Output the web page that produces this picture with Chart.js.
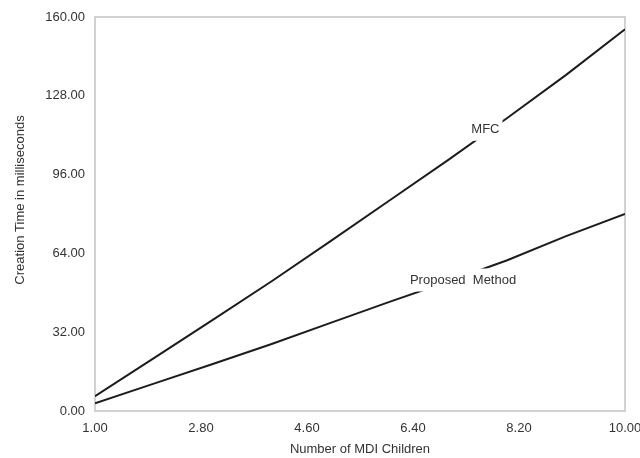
<!DOCTYPE html>
<html><head><meta charset="utf-8">
<script src="https://cdn.jsdelivr.net/npm/chart.js@4"></script>
<style>html,body{margin:0;padding:0;background:#fff;}</style>
</head><body>
<canvas id="c" width="640" height="458"></canvas>
<script>
const xValues = [1,2,3,4,5,6,7,8,9,10];
const mfcValues = [6.0,21.5,37.0,52.7,69.0,85.5,102.0,119.0,136.5,155.0];
const proposedValues = [3.1,11.1,19.1,27.2,35.8,44.3,52.6,61.2,71.0,80.0];
const xTicks = [1.00,2.80,4.60,6.40,8.20,10.00];
const yTicks = [0,32,64,96,128,160];
const seriesNames = ['MFC','Proposed  Method'];
const xTitle = 'Number of MDI Children';
const yTitle = 'Creation Time in milliseconds';
// label anchors in data units (x, y)
const labelAnchorX = [7.63, 7.25];
const labelAnchorY = [114.4, 53.2];

const FAMILY = '"Liberation Sans", Arial, sans-serif';
const FONT = '13px ' + FAMILY;
const TEXT = '#333333';
const LINE = '#1c1c1c';

const toPts = (ys) => xValues.map((x,i)=>({x:x,y:ys[i]}));

const deco = {
  id:'deco',
  beforeDatasetsDraw(chart){
    const {ctx, chartArea:a} = chart;
    ctx.save();
    ctx.strokeStyle = '#c4c4c4';
    ctx.lineWidth = 1.5;
    ctx.strokeRect(a.left, a.top, a.right-a.left, a.bottom-a.top);
    ctx.restore();
  },
  afterDatasetsDraw(chart){
    const {ctx} = chart;
    const xs = chart.scales.x, ys = chart.scales.y;
    ctx.save();
    ctx.font = FONT;
    ctx.textAlign = 'center';
    ctx.textBaseline = 'middle';
    seriesNames.forEach((name,i)=>{
      const px = xs.getPixelForValue(labelAnchorX[i]);
      const py = ys.getPixelForValue(labelAnchorY[i]);
      const w = ctx.measureText(name).width;
      ctx.fillStyle = '#ffffff';
      ctx.fillRect(px-w/2-3, py-11.5, w+6, 23);
      ctx.fillStyle = TEXT;
      ctx.fillText(name, px, py);
    });
    ctx.restore();
  },
  afterDraw(chart){
    const {ctx, chartArea:a} = chart;
    ctx.save();
    ctx.font = FONT;
    ctx.fillStyle = TEXT;
    ctx.textAlign = 'center';
    ctx.textBaseline = 'middle';
    ctx.fillText(xTitle, (a.left+a.right)/2, 449);
    ctx.translate(20, 200);
    ctx.rotate(-Math.PI/2);
    ctx.fillText(yTitle, 0, 0);
    ctx.restore();
  }
};

new Chart(document.getElementById('c'), {
  type:'line',
  data:{
    datasets:[
      {label:seriesNames[0], data:toPts(mfcValues), borderColor:LINE, borderWidth:2, pointRadius:0, tension:0, fill:false},
      {label:seriesNames[1], data:toPts(proposedValues), borderColor:LINE, borderWidth:2, pointRadius:0, tension:0, fill:false}
    ]
  },
  options:{
    responsive:false,
    animation:false,
    devicePixelRatio:1,
    layout:{padding:{top:17,right:15,left:0,bottom:0}},
    plugins:{legend:{display:false},tooltip:{enabled:false},title:{display:false}},
    scales:{
      x:{
        type:'linear', min:1, max:10,
        afterBuildTicks(s){ s.ticks = xTicks.map(v=>({value:v})); },
        afterFit(s){ s.height = 47; s.paddingLeft = 0; s.paddingRight = 0; },
        grid:{display:false, drawTicks:false},
        border:{display:false},
        ticks:{padding:10, color:TEXT, font:{family:FAMILY, size:13}, maxRotation:0, autoSkip:false,
          callback:(v)=>Number(v).toFixed(2)}
      },
      y:{
        type:'linear', min:0, max:160,
        afterBuildTicks(s){ s.ticks = yTicks.map(v=>({value:v})); },
        afterFit(s){ s.width = 95; s.paddingTop = 0; s.paddingBottom = 0; },
        grid:{display:false, drawTicks:false},
        border:{display:false},
        ticks:{padding:10, color:TEXT, font:{family:FAMILY, size:13}, autoSkip:false,
          callback:(v)=>Number(v).toFixed(2)}
      }
    }
  },
  plugins:[deco]
});
</script>
</body></html>
